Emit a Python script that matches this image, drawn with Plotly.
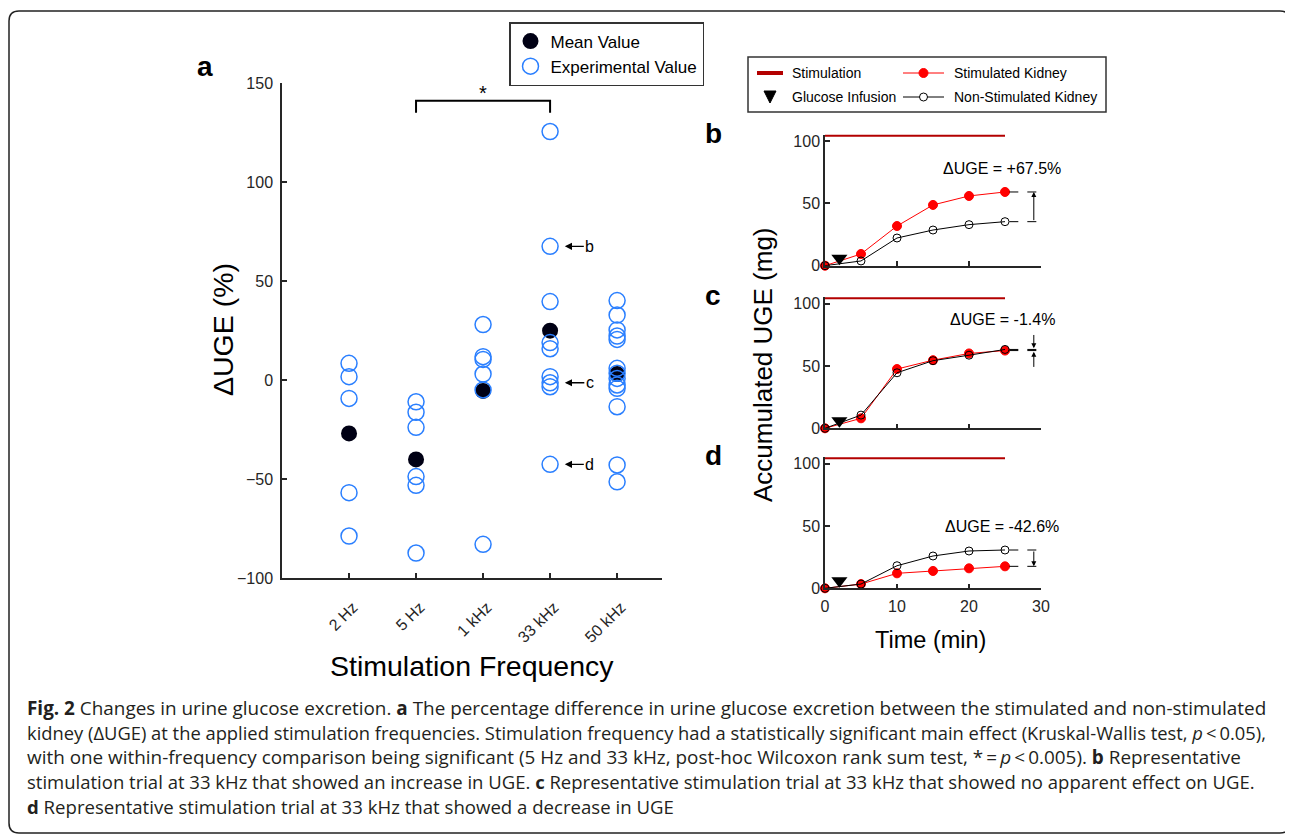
import plotly.graph_objects as go

W, H = 1293, 837
OFF = 8  # page body margin in the browser

# ---------------- data ----------------
freq_labels = ["2 Hz", "5 Hz", "1 kHz", "33 kHz", "50 kHz"]
freq_pos = [1, 2, 3, 4, 5]
uge_2hz = [8.4, 1.7, -9.3, -56.9, -78.8]
uge_5hz = [-11.0, -16.3, -23.9, -48.8, -53.2, -87.4]
uge_1khz = [28.0, 11.8, 10.4, 3.0, -5.0, -83.0]
uge_33khz = [125.5, 67.5, 39.6, 18.9, 15.8, 1.7, -1.4, -3.4, -42.6]
uge_50khz = [40.1, 32.8, 25.3, 22.2, 20.5, 5.9, 3.4, 0.8, -2.5, -4.2, -13.5, -42.9, -51.4]
mean_uge = [-27.0, -40.1, -5.5, 24.9, 3.0]
trial_labels = ["b", "c", "d"]
trial_uge = [67.5, -1.4, -42.6]

time_min = [0, 5, 10, 15, 20, 25]
b_stim = [0, 9.4, 31.8, 48.7, 55.9, 59.1]
b_non = [0, 3.8, 22.2, 28.6, 32.9, 35.3]
c_stim = [0, 8.0, 47.5, 54.6, 60.0, 62.3]
c_non = [0, 10.6, 44.5, 54.2, 58.6, 63.2]
d_stim = [0, 3.4, 12.0, 13.9, 16.0, 17.6]
d_non = [0, 3.4, 18.1, 25.9, 29.9, 30.7]
stim_window = [0, 25]
stim_level = 105
glucose_time = 2
glucose_level = 6
delta_text = ["ΔUGE = +67.5%", "ΔUGE = -1.4%", "ΔUGE = -42.6%"]

caption_lines = [
    "<b>Fig. 2</b> Changes in urine glucose excretion. <b>a</b> The percentage difference in urine glucose excretion between the stimulated and non-stimulated",
    "kidney (ΔUGE) at the applied stimulation frequencies. Stimulation frequency had a statistically significant main effect (Kruskal-Wallis test, <i>p</i>\u2009<\u20090.05),",
    "with one within-frequency comparison being significant (5 Hz and 33 kHz, post-hoc Wilcoxon rank sum test, *\u2009=\u2009<i>p</i>\u2009<\u20090.005). <b>b</b> Representative",
    "stimulation trial at 33 kHz that showed an increase in UGE. <b>c</b> Representative stimulation trial at 33 kHz that showed no apparent effect on UGE.",
    "<b>d</b> Representative stimulation trial at 33 kHz that showed a decrease in UGE",
]
caption_sizes = [18.9, 18.35, 18.9, 18.5, 18.6]

# ---------------- helpers ----------------
def px(x):
    return (x - OFF) / W

def py(y):
    return 1 - (y - OFF) / H

FONT = "Arial, Liberation Sans, sans-serif"
AX = "#262626"
BLUE = "#2a7fff"
RED = "#ff0000"
DARKRED = "#b30000"

fig = go.Figure()

# ---------------- panel a ----------------
groups = [uge_2hz, uge_5hz, uge_1khz, uge_33khz, uge_50khz]
ex_x, ex_y = [], []
for p, g in zip(freq_pos, groups):
    ex_x += [p] * len(g)
    ex_y += g

fig.add_trace(go.Scatter(
    x=freq_pos, y=mean_uge, mode="markers", name="Mean Value",
    marker=dict(symbol="circle", size=16, color="#000014", line=dict(width=0)),
    xaxis="x", yaxis="y", legendrank=1, cliponaxis=False))
fig.add_trace(go.Scatter(
    x=ex_x, y=ex_y, mode="markers", name="Experimental Value",
    marker=dict(symbol="circle-open", size=16, color=BLUE, line=dict(width=1.5, color=BLUE)),
    xaxis="x", yaxis="y", legendrank=2, cliponaxis=False))

# ---------------- panels b, c, d ----------------
panels = [("x2", "y2", b_stim, b_non), ("x3", "y3", c_stim, c_non), ("x4", "y4", d_stim, d_non)]
for xa, ya, st, ns in panels:
    fig.add_trace(go.Scatter(x=stim_window, y=[stim_level, stim_level], mode="lines",
                             line=dict(color=DARKRED, width=4), showlegend=False,
                             xaxis=xa, yaxis=ya, cliponaxis=False))
    fig.add_trace(go.Scatter(x=time_min, y=st, mode="lines+markers",
                             line=dict(color=RED, width=1),
                             marker=dict(size=9, color=RED, line=dict(color=RED, width=1)),
                             showlegend=False, xaxis=xa, yaxis=ya, cliponaxis=False))
    fig.add_trace(go.Scatter(x=time_min, y=ns, mode="lines+markers",
                             line=dict(color="black", width=1),
                             marker=dict(size=8, color="rgba(255,255,255,0)", line=dict(color="black", width=1)),
                             showlegend=False, xaxis=xa, yaxis=ya, cliponaxis=False))
    fig.add_trace(go.Scatter(x=[glucose_time], y=[glucose_level], mode="markers",
                             marker=dict(symbol="triangle-down", size=14, color="black"),
                             showlegend=False, xaxis=xa, yaxis=ya, cliponaxis=False))

# ---------------- axes ----------------
common = dict(showline=True, linecolor=AX, linewidth=1.5, ticks="inside", ticklen=5,
              tickwidth=1.5, tickcolor=AX, showgrid=False, zeroline=False, automargin=False,
              tickfont=dict(family=FONT, size=16, color=AX))

layout_axes = dict(
    xaxis=dict(domain=[px(282), px(662)], range=[0, 5.67], tickvals=freq_pos,
               ticktext=freq_labels, tickangle=-45, anchor="y", ticklabelstandoff=12,
               ticklabelshift=4, **common),
    yaxis=dict(domain=[py(578), py(83)], range=[-100, 150], tickvals=[-100, -50, 0, 50, 100, 150],
               anchor="x", ticklabelstandoff=4, **common),
)
ydoms = [(265.7, 134.7), (428.3, 297.3), (588.3, 457.3)]
for i, (y0, y1) in enumerate(ydoms):
    n = i + 2
    layout_axes[f"xaxis{n}"] = dict(domain=[px(825), px(1041)], range=[0, 30],
                                    tickvals=[0, 10, 20, 30], anchor=f"y{n}",
                                    showticklabels=(n == 4), ticklabelstandoff=3, **common)
    layout_axes[f"yaxis{n}"] = dict(domain=[py(y0), py(y1)], range=[0, 105],
                                    tickvals=[0, 50, 100], anchor=f"x{n}", **common)

fig.update_layout(**layout_axes)

shapes = []
annotations = []

# bracket + asterisk
shapes.append(dict(type="path", xref="x", yref="y",
                   path=f"M {freq_pos[1]},135 L {freq_pos[1]},141 L {freq_pos[3]},141 L {freq_pos[3]},135",
                   line=dict(color="black", width=2)))
annotations.append(dict(x=(freq_pos[1] + freq_pos[3]) / 2, y=145, xref="x", yref="y",
                        text="*", showarrow=False, font=dict(family=FONT, size=20, color="black"),
                        yanchor="middle"))
# trial markers on panel a (arrow pointing to the circle)
for lab, v in zip(trial_labels, trial_uge):
    annotations.append(dict(x=freq_pos[3] + 0.22, y=v, xref="x", yref="y", text=lab,
                            showarrow=True, ax=25, ay=0, arrowhead=2, arrowsize=1.1,
                            arrowwidth=1.3, arrowcolor="black",
                            font=dict(family=FONT, size=16, color="black")))

# delta annotations, dashed guide lines and arrows
for i, (xa, ya, st, ns) in enumerate(panels):
    hi, lo = max(st[-1], ns[-1]), min(st[-1], ns[-1])
    for v in (st[-1], ns[-1]):
        shapes.append(dict(type="line", xref=xa, yref=ya, x0=time_min[-1] + 0.6, x1=29.7,
                           y0=v, y1=v, line=dict(color="black", width=1, dash="dash")))
    if i == 0:
        annotations.append(dict(x=29, y=st[-1], ax=29, ay=ns[-1], xref=xa, yref=ya,
                                axref=xa, ayref=ya, text="", showarrow=True, arrowhead=2,
                                arrowsize=1, arrowwidth=1, arrowcolor="black"))
        ty = 78
    elif i == 1:
        annotations.append(dict(x=29, y=hi + 1, ax=29, ay=76, xref=xa, yref=ya,
                                axref=xa, ayref=ya, text="", showarrow=True, arrowhead=2,
                                arrowsize=1, arrowwidth=1, arrowcolor="black"))
        annotations.append(dict(x=29, y=lo - 1, ax=29, ay=48, xref=xa, yref=ya,
                                axref=xa, ayref=ya, text="", showarrow=True, arrowhead=2,
                                arrowsize=1, arrowwidth=1, arrowcolor="black"))
        ty = 87.5
    else:
        annotations.append(dict(x=29, y=st[-1], ax=29, ay=ns[-1], xref=xa, yref=ya,
                                axref=xa, ayref=ya, text="", showarrow=True, arrowhead=2,
                                arrowsize=1, arrowwidth=1, arrowcolor="black"))
        ty = 49.5
    annotations.append(dict(x=24.6, y=ty, xref=xa, yref=ya, text=delta_text[i], showarrow=False,
                            font=dict(family=FONT, size=16, color="black")))

# axis titles & panel letters
def ptext(x, y, t, size, bold=False, angle=0, anchor="center", family=FONT, color="black"):
    annotations.append(dict(x=px(x), y=py(y), xref="paper", yref="paper",
                            text=f"<b>{t}</b>" if bold else t, showarrow=False,
                            xanchor=anchor, yanchor="middle", textangle=angle,
                            font=dict(family=family, size=size, color=color)))

ptext(223, 329, "ΔUGE (%)", 28.5, angle=-90)
ptext(472, 666, "Stimulation Frequency", 28.5)
ptext(763, 365, "Accumulated UGE (mg)", 26, angle=-90)
ptext(930, 640, "Time (min)", 23.5)
ptext(205, 66, "a", 28, bold=True)
ptext(713, 133, "b", 28, bold=True)
ptext(713, 295, "c", 28, bold=True)
ptext(713, 455, "d", 28, bold=True)

# manual legend for b-d
shapes.append(dict(type="rect", xref="paper", yref="paper", x0=px(748), x1=px(1106),
                   y0=py(112), y1=py(57), line=dict(color="#333", width=1.5), fillcolor="white"))
shapes.append(dict(type="line", xref="paper", yref="paper", x0=px(757), x1=px(783),
                   y0=py(73), y1=py(73), line=dict(color=DARKRED, width=4)))
shapes.append(dict(type="path", xref="paper", yref="paper",
                   path=f"M {px(764)},{py(91)} L {px(776)},{py(91)} L {px(770)},{py(103)} Z",
                   fillcolor="black", line=dict(color="black", width=1)))
shapes.append(dict(type="line", xref="paper", yref="paper", x0=px(903), x1=px(944),
                   y0=py(73), y1=py(73), line=dict(color=RED, width=1)))
shapes.append(dict(type="circle", xref="paper", yref="paper", x0=px(919), x1=px(928),
                   y0=py(77.5), y1=py(68.5), fillcolor=RED, line=dict(color=RED, width=1)))
shapes.append(dict(type="line", xref="paper", yref="paper", x0=px(903), x1=px(944),
                   y0=py(97), y1=py(97), line=dict(color="black", width=1)))
shapes.append(dict(type="circle", xref="paper", yref="paper", x0=px(919.5), x1=px(927.5),
                   y0=py(101), y1=py(93), fillcolor="white", line=dict(color="black", width=1)))
ptext(790, 73, "Stimulation", 14, anchor="left")
ptext(790, 97, "Glucose Infusion", 14, anchor="left")
ptext(952, 73, "Stimulated Kidney", 14, anchor="left")
ptext(952, 97, "Non-Stimulated Kidney", 14, anchor="left")

# caption
for k, (line, fs) in enumerate(zip(caption_lines, caption_sizes)):
    ptext(25, 708 + k * 24.5, line, fs, anchor="left", family="Open Sans, sans-serif", color="#231f20")

# rounded outer border
r = 10
L, T, R, B = 9, 11, 1290, 833
path = (f"M {px(L + r)},{py(T)} L {px(R - r)},{py(T)} Q {px(R)},{py(T)} {px(R)},{py(T + r)} "
        f"L {px(R)},{py(B - r)} Q {px(R)},{py(B)} {px(R - r)},{py(B)} "
        f"L {px(L + r)},{py(B)} Q {px(L)},{py(B)} {px(L)},{py(B - r)} "
        f"L {px(L)},{py(T + r)} Q {px(L)},{py(T)} {px(L + r)},{py(T)} Z")
shapes.append(dict(type="path", xref="paper", yref="paper", path=path,
                   line=dict(color="#222", width=1.5), layer="below"))

fig.update_layout(
    template="none",
    width=W, height=H, margin=dict(l=0, r=0, t=0, b=0, pad=0),
    paper_bgcolor="white", plot_bgcolor="rgba(0,0,0,0)",
    font=dict(family=FONT, color="black"),
    shapes=shapes, annotations=annotations,
    showlegend=True,
    legend=dict(x=px(509), y=py(22), xanchor="left", yanchor="top",
                bordercolor="#333", borderwidth=1.5, bgcolor="white",
                font=dict(family=FONT, size=17, color="black"), tracegroupgap=0,
                itemwidth=30),
)

fig.write_html("out.html")
